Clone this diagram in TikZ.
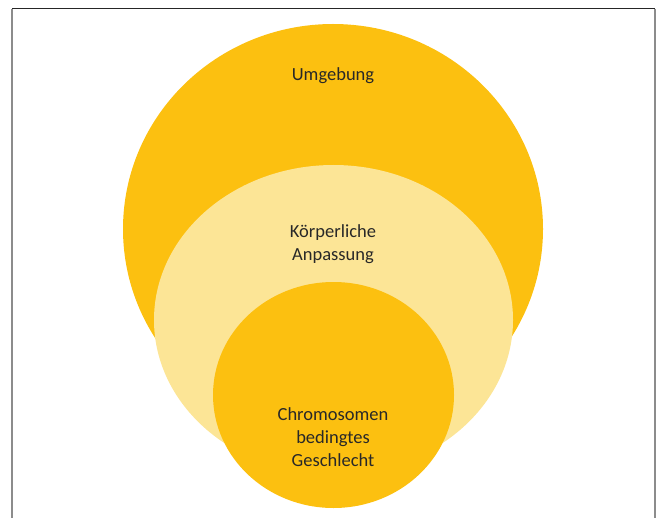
\documentclass[tikz,border=0pt]{standalone}
\usepackage{fontspec}
\setmainfont{Carlito}
\usepackage{xcolor}
\usetikzlibrary{positioning,shapes.geometric}
\definecolor{gold}{RGB}{252,192,16}
\definecolor{lightgold}{RGB}{252,229,150}
\definecolor{txt}{RGB}{40,40,40}

\begin{document}
\begin{tikzpicture}[
  x=1pt, y=-1pt,
  every node/.style={align=center},
  ring/.style  ={ellipse, draw=none, inner sep=0pt},
  outer/.style ={ring, fill=gold, minimum width=420pt, minimum height=410pt},
  middle/.style={ring, fill=lightgold, minimum width=359pt, minimum height=310pt},
  inner/.style ={ring, fill=gold, minimum width=241pt, minimum height=226pt},
  lbl/.style   ={text=txt, font=\fontsize{18.5}{22.8}\selectfont},
  frame/.style ={draw=black!85, line width=1pt},
  side/.style  ={draw=black!45, line width=1.4pt},
]
\useasboundingbox (0,0) rectangle (660,518);

% --- Rahmen ---
\coordinate (tl) at (12,9);
\coordinate (tr) at (655,9);
\coordinate (bl) at (12,518);
\coordinate (br) at (655,518);
\draw[side] (tl) -- (bl);
\draw[side] (tr) -- (br);
\draw[frame] (tl) -- (tr);

% --- Kreise ---
\node[outer]  (umgebung)   at (333,229)   {};
\node[middle] (anpassung)  at (333.5,320) {};
\node[inner]  (geschlecht) at (333.5,395) {};

% --- Beschriftungen ---
\node[lbl] (t-umgebung)   at (333,76)  {Umgebung};
\node[lbl] (t-anpassung)  at (333,244) {Körperliche\\Anpassung};
\node[lbl] (t-geschlecht) at (333,437) {Chromosomen\\bedingtes\\Geschlecht};

\end{tikzpicture}
\end{document}
